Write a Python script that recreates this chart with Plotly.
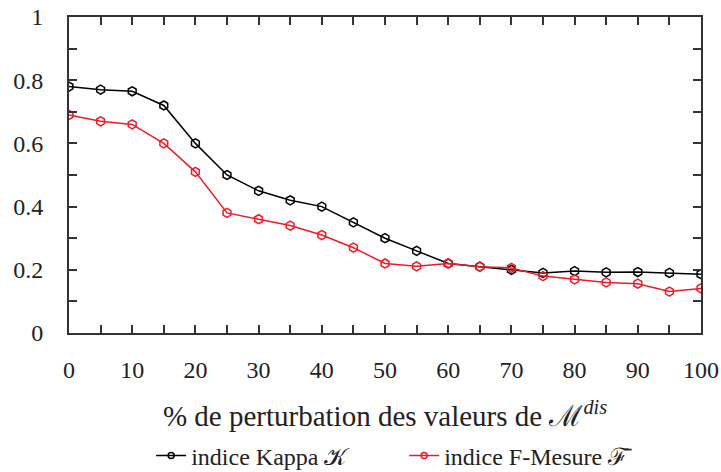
import plotly.graph_objects as go

# percentage of perturbation
pct = [0, 5, 10, 15, 20, 25, 30, 35, 40, 45, 50, 55, 60, 65, 70, 75, 80, 85, 90, 95, 100]

# indice Kappa
kappa = [0.78, 0.77, 0.765, 0.72, 0.60, 0.50, 0.45, 0.42, 0.40, 0.35, 0.30,
         0.26, 0.22, 0.21, 0.20, 0.19, 0.196, 0.192, 0.193, 0.19, 0.186]

# indice F-Mesure
fmes = [0.69, 0.67, 0.66, 0.60, 0.51, 0.38, 0.36, 0.34, 0.31, 0.27, 0.22,
        0.211, 0.22, 0.21, 0.206, 0.18, 0.17, 0.16, 0.156, 0.131, 0.141]

y_ticks = [0, 0.2, 0.4, 0.6, 0.8, 1]
y_labels = ["0", "0.2", "0.4", "0.6", "0.8", "1"]

names = ["indice Kappa 𝒦", "indice F-Mesure ℱ̄"]
colors = ["black", "#ee1c24"]

font = "Times New Roman, Liberation Serif, DejaVu Serif, serif"
axis_col = "#333333"
text_col = "#222222"

fig = go.Figure()
for ys, name, col in zip([kappa, fmes], names, colors):
    fig.add_trace(go.Scatter(
        x=pct, y=ys, mode="lines+markers", name=name, showlegend=False,
        line=dict(color=col, width=1.5),
        marker=dict(symbol="hexagon-open", size=9, color=col, line=dict(width=1.5)),
    ))
# legend entries with smaller symbols
for name, col in zip(names, colors):
    fig.add_trace(go.Scatter(
        x=[None], y=[None], mode="lines+markers", name=name,
        line=dict(color=col, width=1.5),
        marker=dict(symbol="circle-open", size=6, color=col, line=dict(width=1.5)),
    ))

tick_style = dict(ticks="inside", ticklen=8, tickwidth=1.5, tickcolor=axis_col)

fig.update_layout(
    width=721, height=472,
    margin=dict(l=69, r=20, t=17, b=139, autoexpand=False),
    paper_bgcolor="white", plot_bgcolor="white",
    font=dict(family=font, size=24, color=text_col),
    showlegend=True,
    legend=dict(orientation="h", x=0.13, xanchor="left", y=-0.389,
                yanchor="middle", font=dict(family=font, size=24, color=text_col),
                itemwidth=30, entrywidth=208, entrywidthmode="pixels"),
    xaxis=dict(
        range=[0, 100], tickmode="linear", tick0=0, dtick=10,
        **tick_style,
        minor=dict(tickmode="linear", tick0=0, dtick=5, **tick_style),
        ticklabelstandoff=14,
        showline=True, linecolor=axis_col, linewidth=2, mirror="ticks",
        showgrid=False, zeroline=False, automargin=False,
        title=dict(text="% de perturbation des valeurs de ℳ<sup><i>dis</i></sup>",
                   standoff=24),
    ),
    yaxis=dict(
        range=[0, 1], tickvals=y_ticks, ticktext=y_labels,
        **tick_style,
        minor=dict(tickmode="linear", tick0=0, dtick=0.1, **tick_style),
        ticklabelstandoff=19,
        showline=True, linecolor=axis_col, linewidth=2, mirror="ticks",
        showgrid=False, zeroline=False, automargin=False,
    ),
)

fig.write_html("out.html", config={"displayModeBar": False},
               post_script="document.body.style.margin='0px';")
